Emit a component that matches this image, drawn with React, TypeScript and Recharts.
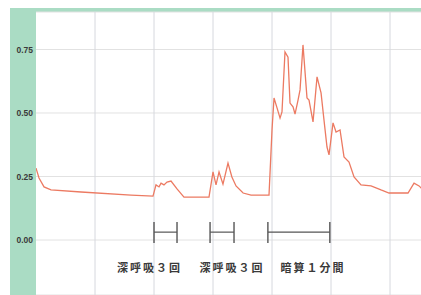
import {
  LineChart, Line, XAxis, YAxis, CartesianGrid,
  ReferenceLine, ReferenceDot,
} from 'recharts';

// time (grid step = 10) and value
const times = [
  0, 0.51, 1.36, 2.54, 7.63, 16.1, 19.83, 20.34, 20.85, 21.19, 21.69, 22.2, 22.88, 23.9, 25.08,
  29.32, 30.0, 30.51, 31.02, 31.69, 32.54, 33.2, 33.9, 35.1, 36.44, 39.49, 40.0, 40.34, 40.85,
  41.36, 41.69, 42.2, 42.71, 43.05, 43.56, 43.9, 44.41, 44.75, 45.25, 45.93, 46.27, 46.95,
  47.63, 48.31, 48.81, 49.32, 49.66, 50.34, 50.85, 51.53, 52.2, 53.05, 53.9, 55.08, 56.78,
  58.47, 59.83, 63.05, 64.07, 64.92, 65.42,
];
const values = [
  0.283, 0.244, 0.209, 0.197, 0.189, 0.177, 0.173, 0.217, 0.209, 0.224, 0.217, 0.228, 0.232, 0.201, 0.169,
  0.169, 0.268, 0.217, 0.268, 0.22, 0.303, 0.248, 0.213, 0.185, 0.177, 0.177, 0.433, 0.559, 0.52,
  0.48, 0.504, 0.74, 0.72, 0.539, 0.524, 0.496, 0.551, 0.591, 0.768, 0.559, 0.551, 0.465,
  0.642, 0.579, 0.472, 0.366, 0.335, 0.461, 0.425, 0.433, 0.327, 0.307, 0.248, 0.217, 0.213,
  0.197, 0.185, 0.185, 0.224, 0.213, 0.201,
];

const yTicks = [0, 0.25, 0.5, 0.75];
const xTicks = [10, 20, 30, 40, 50, 60];

// annotation brackets: start / end in time units
const spanStart = [20.0, 29.5, 39.3];
const spanEnd = [23.9, 33.56, 49.8];
const spanLabels = ['深呼吸３回', '深呼吸３回', '暗算１分間'];
const labelCenters = [19.24, 33.2, 46.95];

const BRACKET_Y = 0.031;
const BRACKET_TOP = 0.071;
const BRACKET_BOTTOM = -0.012;
const LABEL_Y = -0.11;

const data = times.map((t, i) => ({ t, v: values[i] }));

export default function App() {
  return (
    <div style={{ position: 'fixed', left: 10, top: 8, width: 411, height: 287, overflow: 'hidden', background: '#aadcc4' }}>
      <LineChart width={411} height={287} data={data} margin={{ top: 4, right: 0, left: 0, bottom: 0 }}>
        <CartesianGrid fill="#ffffff" vertical={false} stroke="#e2e2e2" />
        <XAxis
          dataKey="t" type="number" domain={[0, 65.25]} ticks={xTicks}
          allowDataOverflow height={0} axisLine={false} tickLine={false} tick={false}
        />
        <YAxis
          type="number" domain={[-0.2165, 0.8976]} ticks={yTicks} allowDataOverflow width={26}
          axisLine={false} tickLine={false} tickSize={0} tickMargin={3}
          tickFormatter={(v: number) => v.toFixed(2)}
          tick={{ fontSize: 8.5, fill: '#3a3a3a', fontFamily: 'Liberation Sans', fontWeight: 600 }}
        />
        {xTicks.map((t) => (
          <ReferenceLine key={`g${t}`} x={t} stroke="#d6d8de" strokeWidth={1} />
        ))}
        <Line
          dataKey="v" type="linear" stroke="#ec7a62" strokeWidth={1.3}
          dot={false} isAnimationActive={false}
        />
        {spanStart.map((s, i) => (
          <ReferenceLine key={`h${i}`} segment={[{ x: s, y: BRACKET_Y }, { x: spanEnd[i], y: BRACKET_Y }]} stroke="#555" strokeWidth={1.2} />
        ))}
        {spanStart.map((s, i) => (
          <ReferenceLine key={`l${i}`} segment={[{ x: s, y: BRACKET_TOP }, { x: s, y: BRACKET_BOTTOM }]} stroke="#555" strokeWidth={1.4} />
        ))}
        {spanEnd.map((e, i) => (
          <ReferenceLine key={`r${i}`} segment={[{ x: e, y: BRACKET_TOP }, { x: e, y: BRACKET_BOTTOM }]} stroke="#555" strokeWidth={1.4} />
        ))}
        {spanLabels.map((lab, i) => (
          <ReferenceDot
            key={`t${i}`} x={labelCenters[i]} y={LABEL_Y} r={0} fill="none" stroke="none"
            label={{
              value: lab, position: 'center', fontSize: 11, fill: '#3a3a3a', fontWeight: 700,
              fontFamily: 'Noto Sans CJK JP', letterSpacing: 2,
            }}
          />
        ))}
      </LineChart>
    </div>
  );
}
